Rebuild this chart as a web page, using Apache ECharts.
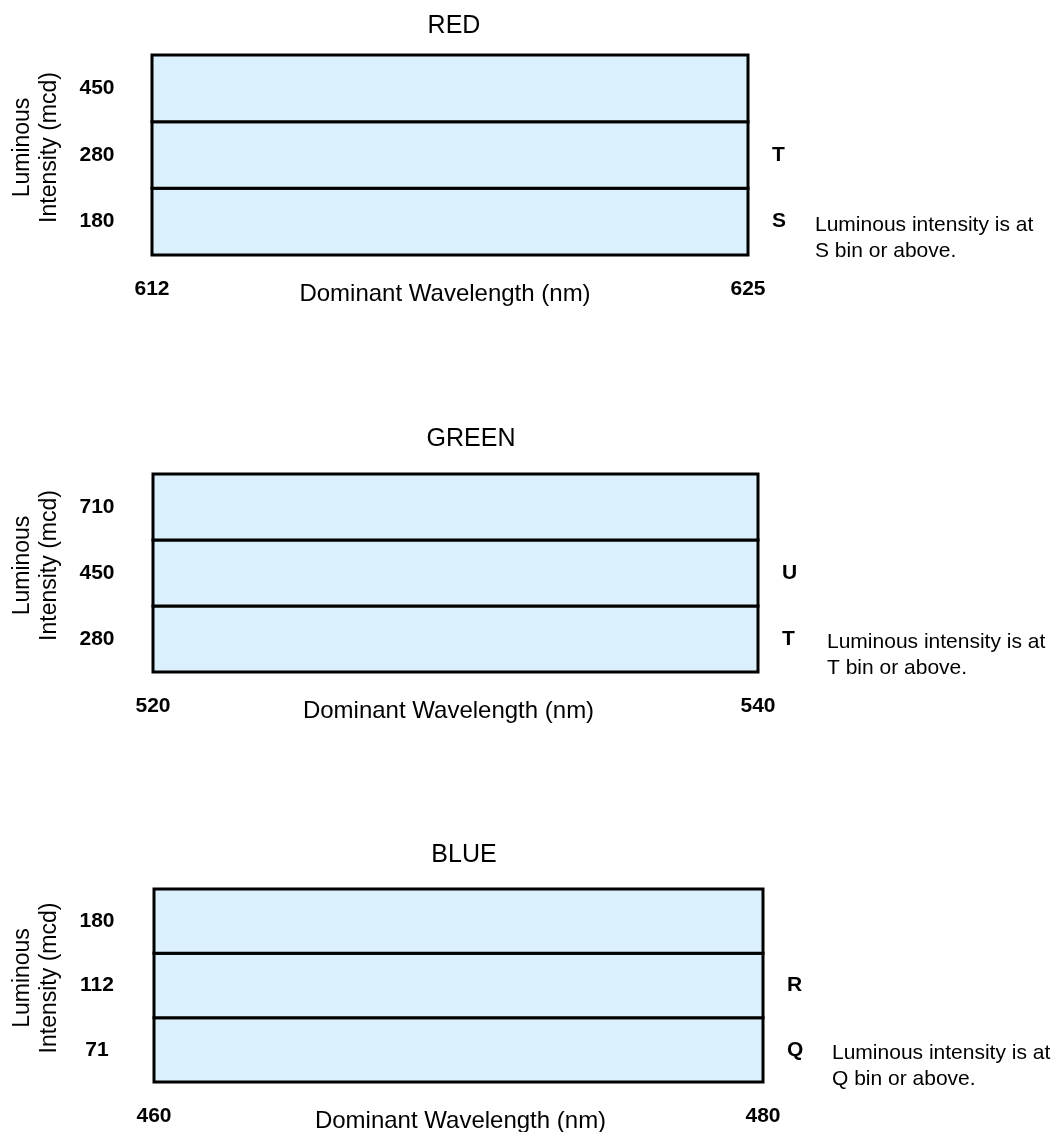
<!DOCTYPE html>
<html>
<head>
<meta charset="utf-8">
<script src="https://cdn.jsdelivr.net/npm/echarts@6/dist/echarts.min.js"></script>
<style>html,body{margin:0;padding:0;background:#fff;}#c{width:1064px;height:1132px;}</style>
</head>
<body>
<div id="c"></div>
<script>
// ---- data ----
const panelTitles = ['RED', 'GREEN', 'BLUE'];
const redRange = [612, 625];
const greenRange = [520, 540];
const blueRange = [460, 480];
const redBins = ['180', '280', '450'];
const greenBins = ['280', '450', '710'];
const blueBins = ['71', '112', '180'];
const redCodes = ['S', 'T', ''];
const greenCodes = ['T', 'U', ''];
const blueCodes = ['Q', 'R', ''];
const redNote = ['Luminous intensity is at', 'S bin or above.'];
const greenNote = ['Luminous intensity is at', 'T bin or above.'];
const blueNote = ['Luminous intensity is at', 'Q bin or above.'];
const xAxisName = 'Dominant Wavelength (nm)';
const yAxisName = 'Luminous\nIntensity (mcd)';

const ranges = [redRange, greenRange, blueRange];
const bins = [redBins, greenBins, blueBins];
const codes = [redCodes, greenCodes, blueCodes];
const notes = [redNote, greenNote, blueNote];

// ---- layout ----
const FONT = '"Liberation Sans", Arial, Helvetica, sans-serif';
const grids = [
  {left: 152, right: 1064 - 748, top: 55, height: 200},
  {left: 153, right: 1064 - 758, top: 474, height: 198},
  {left: 154, right: 1064 - 763, top: 889, height: 193}
];
const titlePos = [[449, 9], [466, 422], [459, 838]];
const notePos = [[815, 212], [827, 629], [832, 1040]];
const xNamePad = [[0, 10, 0, 0], [0, 14, 0, 0], [0, 0, 0, 4]];
const FILL = '#dbf0fd';

const option = {
  backgroundColor: '#fff',
  animation: false,
  title: panelTitles.map((t, i) => ({
    text: t, left: titlePos[i][0], top: titlePos[i][1], textAlign: 'center',
    textStyle: {fontFamily: FONT, fontSize: 25, fontWeight: 'normal', color: '#000'}
  })),
  grid: grids.map(g => Object.assign({outerBoundsMode: 'none', containLabel: false, show: false}, g)),
  xAxis: ranges.map((r, i) => ({
    type: 'value', gridIndex: i, min: r[0], max: r[1],
    name: xAxisName, nameLocation: 'middle', nameGap: 27, nameMoveOverlap: false,
    nameTextStyle: {fontFamily: FONT, fontSize: 24, color: '#000', padding: xNamePad[i]},
    axisLine: {show: false}, axisTick: {show: false}, splitLine: {show: false},
    axisLabel: {
      customValues: [r[0], r[1]], showMinLabel: true, showMaxLabel: true,
      margin: 24, fontFamily: FONT, fontSize: 21, fontWeight: 'bold', color: '#000'
    }
  })),
  yAxis: [].concat(
    bins.map((b, i) => ({
      type: 'category', gridIndex: i, data: b, position: 'left',
      name: yAxisName, nameLocation: 'middle', nameRotate: 90, nameGap: 89 + i, nameMoveOverlap: false,
      nameTextStyle: {fontFamily: FONT, fontSize: 23, lineHeight: 27, color: '#000', align: 'center',
                      padding: [0, 0, 0, 15]},
      axisLine: {show: false}, axisTick: {show: false}, splitLine: {show: false},
      axisLabel: {align: 'center', margin: 55 + i, fontFamily: FONT, fontSize: 21, fontWeight: 'bold', color: '#000'}
    })),
    codes.map((c, i) => ({
      type: 'category', gridIndex: i, data: c, position: 'right',
      axisLine: {show: false}, axisTick: {show: false}, splitLine: {show: false},
      axisLabel: {align: 'left', margin: 24, fontFamily: FONT, fontSize: 21, fontWeight: 'bold', color: '#000'}
    }))
  ),
  series: ranges.map((r, i) => ({
    type: 'custom', xAxisIndex: i, yAxisIndex: i, clip: false,
    encode: {x: [0, 1], y: 2},
    data: bins[i].map((b, k) => [r[0], r[1], k]),
    renderItem: function (params, api) {
      const p0 = api.coord([api.value(0), api.value(2)]);
      const p1 = api.coord([api.value(1), api.value(2)]);
      const h = api.size([0, 1])[1];
      return {
        type: 'rect',
        shape: {x: p0[0], y: p0[1] - h / 2, width: p1[0] - p0[0], height: h},
        style: {fill: FILL, stroke: '#000', lineWidth: 3}
      };
    }
  })),
  graphic: notes.map((n, i) => ({
    type: 'text', left: notePos[i][0], top: notePos[i][1],
    style: {text: n.join('\n'), font: '21px ' + FONT, lineHeight: 26, fill: '#000'}
  }))
};

const chart = echarts.init(document.getElementById('c'), null, {renderer: 'canvas'});
chart.setOption(option);
</script>
</body>
</html>
